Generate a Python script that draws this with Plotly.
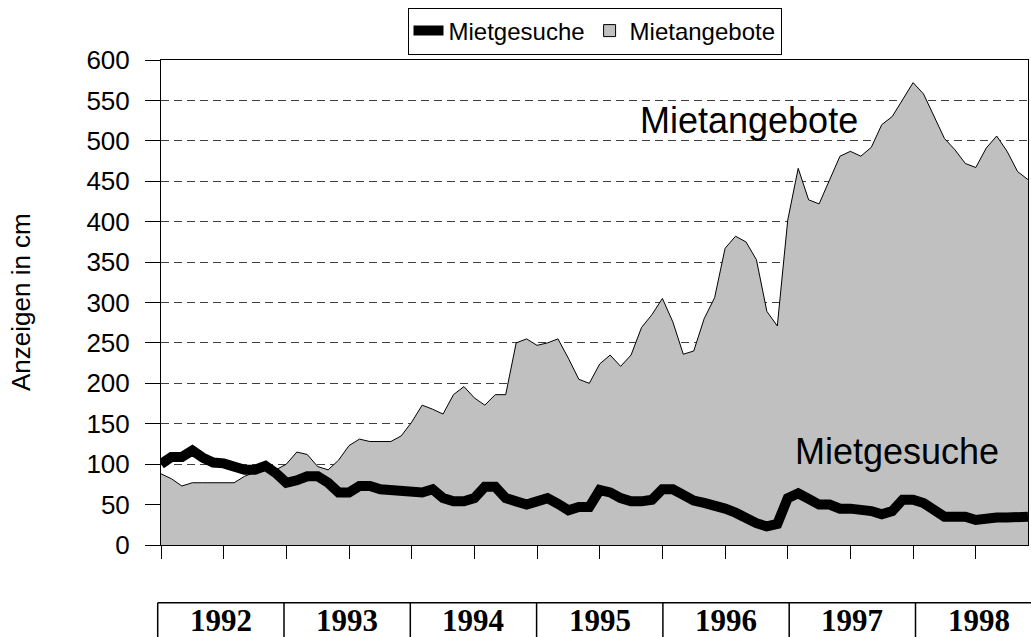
import plotly.graph_objects as go

# ---------------- data (monthly, Jan 1992 .. Dec 1998) ----------------
years = [1992, 1993, 1994, 1995, 1996, 1997, 1998]
months = list(range(84))

mietangebote = [
    88, 82, 73, 77, 77, 77, 77, 77, 85, 90, 92, 93,
    100, 115, 112, 97, 93, 105, 123, 131, 128, 128, 128, 135,
    152, 173, 168, 162, 186, 196, 182, 173, 186, 186, 250, 255,
    247, 250, 255, 231, 205, 200, 224, 235, 221, 235, 269, 285,
    305, 276, 236, 240, 280, 306, 367, 382, 375, 353, 289, 271,
    402, 466, 427, 422, 452, 481, 487, 481, 492, 520, 530, 551,
    572, 558, 531, 503, 489, 472, 467, 491, 506, 487, 462, 452,
]

mietgesuche = [
    100, 109, 109, 117, 108, 102, 101, 97, 93, 93, 98, 89,
    77, 80, 85, 85, 77, 65, 65, 73, 73, 69, 68, 68,
    64, 65, 69, 58, 54, 54, 58, 72, 72, 58, 54, 50,
    54, 58, 51, 43, 47, 47, 68, 65, 58, 54, 54, 56,
    69, 69, 62, 55, 52, 50, 45, 40, 33, 27, 23, 26,
    58, 64, 57, 50, 50, 45, 45, 45, 42, 38, 42, 56,
    56, 52, 44, 35, 35, 35, 31, 34, 34, 34, 34, 35,
]

y_ticks = list(range(0, 601, 50))
x_ticks = list(range(0, 84, 6))

SANS = "Liberation Sans, Arial, sans-serif"
SERIF = "Liberation Serif, Times New Roman, serif"
GREY = "#C0C0C0"

fig = go.Figure()

# grey area (legend entry provided by a bar-style swatch below)
fig.add_trace(go.Scatter(
    x=months, y=mietangebote, name="Mietangebote",
    mode="lines", fill="tozeroy", fillcolor=GREY,
    line=dict(color="black", width=1), showlegend=False,
))
fig.add_trace(go.Scatter(
    x=months, y=mietgesuche, name="Mietgesuche",
    mode="lines", line=dict(color="black", width=10), legendrank=1,
))
# legend swatch for the area series (no data drawn)
fig.add_trace(go.Bar(
    x=[None], y=[None], name="Mietangebote",
    marker=dict(color=GREY, line=dict(color="black", width=1)),
    legendrank=2, hoverinfo="skip",
))

# ---------------- layout geometry ----------------
W, H = 1031, 637
ML, MR, MT, MB = 161, 3, 60, 92
PW = W - ML - MR
PH = H - MT - MB


def px_x(px):
    return (px - ML) / PW


def px_y(py):
    return (H - MB - py) / PH


fig.update_layout(
    width=W, height=H,
    margin=dict(l=ML, r=MR, t=MT, b=MB, pad=0),
    paper_bgcolor="white", plot_bgcolor="white",
    font=dict(family=SANS, color="black"),
    showlegend=True,
    legend=dict(
        orientation="h", x=px_x(594.5), xanchor="center",
        y=px_y(31), yanchor="middle",
        font=dict(size=24, family=SANS),
        bordercolor="black", borderwidth=1, bgcolor="white",
        itemwidth=30, tracegroupgap=0,
    ),
    xaxis=dict(
        range=[0, 83], showgrid=False, zeroline=False,
        showticklabels=False, tickvals=x_ticks,
        ticks="outside", ticklen=13, tickcolor="black", tickwidth=1,
        showline=True, linecolor="black", linewidth=1, mirror=True,
    ),
    xaxis2=dict(
        range=[0, 83], overlaying="x", anchor="y", side="bottom",
        showgrid=False, zeroline=False, showticklabels=False,
        tickvals=x_ticks, ticks="inside", ticklen=13,
        tickcolor="black", tickwidth=1, showline=False,
    ),
    yaxis=dict(
        range=[0, 600], tickvals=y_ticks,
        ticks="outside", ticklen=15, tickcolor="black", tickwidth=1,
        tickfont=dict(size=26, family=SANS, color="black"),
        ticklabelstandoff=10,
        showgrid=True, gridcolor="#404040", gridwidth=1, griddash="8px,5px",
        zeroline=False,
        showline=True, linecolor="black", linewidth=1, mirror=True,
    ),
)

annotations = [
    dict(text="Anzeigen in cm", xref="paper", yref="paper",
         x=px_x(21), y=px_y(302), textangle=-90, showarrow=False,
         xanchor="center", yanchor="middle",
         font=dict(size=26, family=SANS, color="black")),
    dict(text="Mietangebote", xref="paper", yref="paper",
         x=px_x(749), y=px_y(120), showarrow=False,
         xanchor="center", yanchor="middle",
         font=dict(size=36, family=SANS, color="black")),
    dict(text="Mietgesuche", xref="paper", yref="paper",
         x=px_x(897), y=px_y(451), showarrow=False,
         xanchor="center", yanchor="middle",
         font=dict(size=36, family=SANS, color="black")),
]

# ---------------- year table below the chart ----------------
cell_left = px_x(157.7)
cell_w = 126.3 / PW
tab_top = px_y(602.7)
tab_bot = px_y(660)

shapes = [dict(type="line", xref="paper", yref="paper",
               x0=cell_left, x1=cell_left + cell_w * len(years),
               y0=tab_top, y1=tab_top, line=dict(color="black", width=1.5))]
for k, yr in enumerate(years):
    xl = cell_left + k * cell_w
    shapes.append(dict(type="line", xref="paper", yref="paper",
                       x0=xl, x1=xl, y0=tab_top, y1=tab_bot,
                       line=dict(color="black", width=1.5)))
    annotations.append(dict(
        text=f"<b>{yr}</b>", xref="paper", yref="paper",
        x=xl + cell_w / 2, y=px_y(620), showarrow=False,
        xanchor="center", yanchor="middle",
        font=dict(size=31, family=SERIF, color="black")))

fig.update_layout(annotations=annotations, shapes=shapes)

fig.write_html(
    "out.html",
    config={"displayModeBar": False},
    post_script="document.body.style.margin='0';document.body.style.overflow='hidden';",
)
